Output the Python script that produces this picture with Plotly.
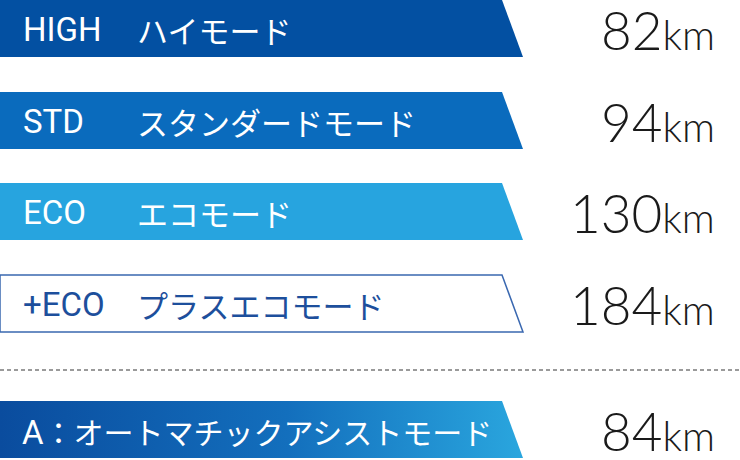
import plotly.graph_objects as go

# ---- data ----
codes = ["HIGH", "STD", "ECO", "+ECO", "A："]
names = ["ハイモード", "スタンダードモード", "エコモード", "プラスエコモード", "オートマチックアシストモード"]
ranges_km = [82, 94, 130, 184, 84]
unit = "km"
fills = ["#0350a2", "#0a6bbd", "#27a4df", "#ffffff", "gradient"]
text_colors = ["#ffffff", "#ffffff", "#ffffff", "#1d4f9c", "#ffffff"]
row_tops = [0, 92, 183, 275, 401]

# ---- layout constants (pixel space) ----
W, H = 740, 460
BAR_H = 57
X_TOP_RIGHT = 502
X_BOT_RIGHT = 523

fig = go.Figure()

for i, (code, name, val) in enumerate(zip(codes, names, ranges_km)):
    top = row_tops[i]
    bot = top + BAR_H
    xs = [0, X_TOP_RIGHT, X_BOT_RIGHT, 0, 0]
    ys = [top, top, bot, bot, top]
    f = fills[i]
    kw = dict(x=xs, y=ys, mode="lines", fill="toself", hoverinfo="skip", showlegend=False)
    if f == "gradient":
        fig.add_trace(go.Scatter(**kw, line=dict(width=0, color="#2a9fd9"),
                                 fillgradient=dict(type="horizontal",
                                                   colorscale=[[0, "#0a4c9e"], [0.55, "#136fbd"], [1, "#2aa6de"]])))
    elif f == "#ffffff":
        fig.add_trace(go.Scatter(**kw, fillcolor="#ffffff", line=dict(width=1.5, color="#3a68b0")))
    else:
        fig.add_trace(go.Scatter(**kw, fillcolor=f, line=dict(width=0, color=f)))

    cy = top + BAR_H / 2
    tc = text_colors[i]
    if i == 4:
        fig.add_annotation(x=20, y=cy + 1, xref="x", yref="y", xanchor="left", yanchor="middle",
                           text=f"<span style='font-family:Roboto;font-size:33px'>{code[0]}</span>{code[1:]}{name}",
                           showarrow=False,
                           font=dict(family="Noto Sans CJK JP", size=30, color=tc))
    else:
        fig.add_annotation(x=21, y=cy + 1, xref="x", yref="y", xanchor="left", yanchor="middle",
                           text=code, showarrow=False,
                           font=dict(family="Roboto", size=33, color=tc))
        fig.add_annotation(x=135, y=cy + 1, xref="x", yref="y", xanchor="left", yanchor="middle",
                           text=name, showarrow=False,
                           font=dict(family="Noto Sans CJK JP", size=31, color=tc))

    fig.add_annotation(x=717, y=cy + 1, xref="x", yref="y", xanchor="right", yanchor="middle",
                       text=f"{val}<span style='font-size:41px'>{unit}</span>", showarrow=False,
                       font=dict(family="Lato", size=53, color="#1a1a1a", weight=300))

# dotted separator
fig.add_shape(type="line", x0=0, x1=W, y0=370, y1=370, xref="x", yref="y",
              line=dict(color="#9a9a9a", width=2, dash="4px,3px"))

fig.update_layout(
    width=W, height=H,
    margin=dict(l=0, r=0, t=0, b=0),
    paper_bgcolor="#ffffff", plot_bgcolor="#ffffff",
    xaxis=dict(range=[0, W], visible=False, fixedrange=True),
    yaxis=dict(range=[H, 0], visible=False, fixedrange=True),
)

fig.write_html("out.html", config={"displayModeBar": False},
               post_script="document.body.style.margin='0';document.body.style.overflow='hidden';")
